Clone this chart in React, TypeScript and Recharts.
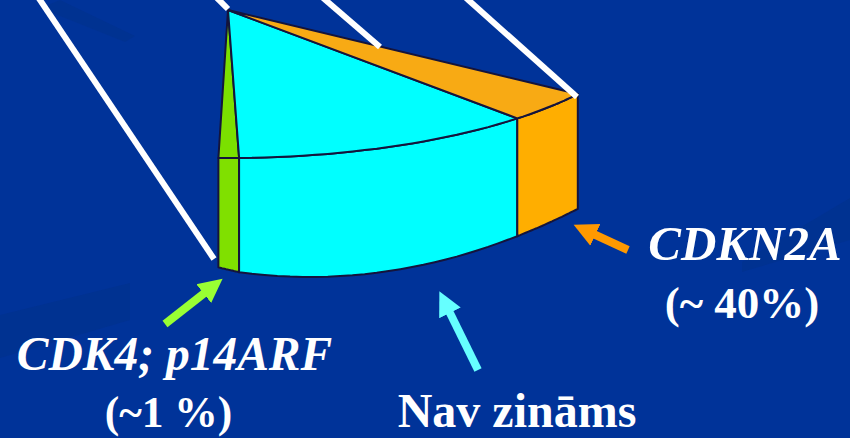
import React from 'react';
import { ComposedChart, PieChart, Pie, XAxis, YAxis, ReferenceLine } from 'recharts';

const WIDTH = 850;
const HEIGHT = 438;

// Slices as seen on the tilted wedge, in degrees of the (unprojected) pie
const sliceNames = ['CDK4; p14ARF', 'Nav zināms', 'CDKN2A'];
const sliceValues = [2.8, 41.4, 12.5];
const sliceTop = ['#7be000', '#00ffff', '#f8aa14'];
const sliceSide = ['#80e000', '#00ffff', '#ffae00'];
const wedgeStart = 268.7;

const pieData = sliceNames.map((name, i) => ({
    name,
    value: sliceValues[i],
    top: sliceTop[i],
    side: sliceSide[i],
}));

// Annotation overlay, in the 850x438 coordinate system of the hidden axes
const whiteLines = [
    [38, -3, 214, 259],
    [216, -3, 228, 9],
    [322, -3, 380, 47],
    [465, -3, 577, 97],
];
const arrows = [
    { id: 'arrowGreen', color: '#99ff33', from: [165, 324], to: [204.5, 293] },
    { id: 'arrowCyan', color: '#66ffff', from: [478, 370], to: [449.5, 312] },
    { id: 'arrowOrange', color: '#ff9900', from: [628, 250], to: [594.5, 234.5] },
];
const captions = [
    { text: 'CDK4; p14ARF', x: 174.5, y: 370, size: 47.5, italic: true },
    { text: '(~1 %)', x: 168.5, y: 427, size: 43.5, italic: false },
    { text: 'Nav zināms', x: 517, y: 427, size: 48, italic: false },
    { text: 'CDKN2A', x: 745, y: 260, size: 49, italic: true },
    { text: '(~ 40%)', x: 742, y: 318, size: 45, italic: false },
];
const backdropPatches = [
    '0,315 130,283 130,320 0,358',
    '742,262 850,198 850,240 742,272',
    '60,0 135,36 125,42 40,8',
];

const SQUASH = 148 / 425;
const bottomEdge = (x: number) => 277 - 0.00095 * (x - 310) * (x - 310) - (x < 240 ? (240 - x) * 0.08 : 0);

const WedgeSlice = (props: any) => {
    const { cx, cy, outerRadius, startAngle, endAngle, payload } = props;
    const topPts: number[][] = [];
    const steps = 24;
    for (let i = 0; i <= steps; i++) {
        const phi = (((startAngle + ((endAngle - startAngle) * i) / steps) - 270) * Math.PI) / 180;
        topPts.push([cx + outerRadius * Math.sin(phi), cy + outerRadius * SQUASH * Math.cos(phi)]);
    }
    const botPts = topPts.map(([x]) => [x, bottomEdge(x)]);
    const line = (pts: number[][]) => pts.map((p) => `${p[0].toFixed(1)},${p[1].toFixed(1)}`).join(' L');
    const face = `M${cx},${cy} L${line(topPts)} Z`;
    const wall = `M${line(topPts)} L${line([...botPts].reverse())} Z`;
    return (
        <g>
            <path d={wall} fill={payload.side} stroke="#14143c" strokeWidth={2} strokeLinejoin="round" />
            <path d={face} fill={payload.top} stroke="#14143c" strokeWidth={2} strokeLinejoin="round" />
        </g>
    );
};

export default function App() {
    return (
        <div style={{ position: 'absolute', left: 0, top: 0, width: WIDTH, height: HEIGHT, overflow: 'hidden', background: '#003399' }}>
            <svg width={WIDTH} height={HEIGHT} style={{ position: 'absolute', left: 0, top: 0 }}>
                <defs>
                    {arrows.map((a) => (
                        <marker
                            key={a.id}
                            id={a.id}
                            markerUnits="userSpaceOnUse"
                            markerWidth={26}
                            markerHeight={26}
                            refX={1}
                            refY={13}
                            orient="auto"
                        >
                            <path d="M0,1 L24,13 L0,25 Z" fill={a.color} />
                        </marker>
                    ))}
                </defs>
                {backdropPatches.map((p) => (
                    <polygon key={p} points={p} fill="#003291" />
                ))}
            </svg>
            <div style={{ position: 'absolute', left: 0, top: 0 }}>
                <PieChart width={WIDTH} height={HEIGHT} margin={{ top: 0, right: 0, bottom: 0, left: 0 }}>
                    <Pie
                        data={pieData}
                        dataKey="value"
                        nameKey="name"
                        cx={228}
                        cy={10}
                        innerRadius={0}
                        outerRadius={425}
                        startAngle={wedgeStart}
                        endAngle={wedgeStart + sliceValues.reduce((s, v) => s + v, 0)}
                        stroke="none"
                        isAnimationActive={false}
                        shape={WedgeSlice}
                    />
                </PieChart>
            </div>
            <div style={{ position: 'absolute', left: 0, top: 0 }}>
                <ComposedChart width={WIDTH} height={HEIGHT} margin={{ top: 0, right: 0, bottom: 0, left: 0 }}>
                    <XAxis type="number" dataKey="x" domain={[0, WIDTH]} hide allowDataOverflow />
                    <YAxis type="number" domain={[HEIGHT, 0]} hide allowDataOverflow width={0} />
                    {whiteLines.map(([x1, y1, x2, y2]) => (
                        <ReferenceLine
                            key={x1}
                            segment={[{ x: x1, y: y1 }, { x: x2, y: y2 }]}
                            stroke="#ffffff"
                            strokeWidth={6}
                            ifOverflow="visible"
                        />
                    ))}
                    {arrows.map((a) => (
                        <ReferenceLine
                            key={a.id}
                            segment={[{ x: a.from[0], y: a.from[1] }, { x: a.to[0], y: a.to[1] }]}
                            stroke={a.color}
                            strokeWidth={8}
                            markerEnd={`url(#${a.id})`}
                            ifOverflow="visible"
                        />
                    ))}
                    {captions.map((c) => (
                        <text
                            key={c.text}
                            x={c.x}
                            y={c.y}
                            textAnchor="middle"
                            fill="#ffffff"
                            fontFamily="'Liberation Serif', serif"
                            fontWeight="bold"
                            fontStyle={c.italic ? 'italic' : 'normal'}
                            fontSize={c.size}
                        >
                            {c.text}
                        </text>
                    ))}
                </ComposedChart>
            </div>
        </div>
    );
}
